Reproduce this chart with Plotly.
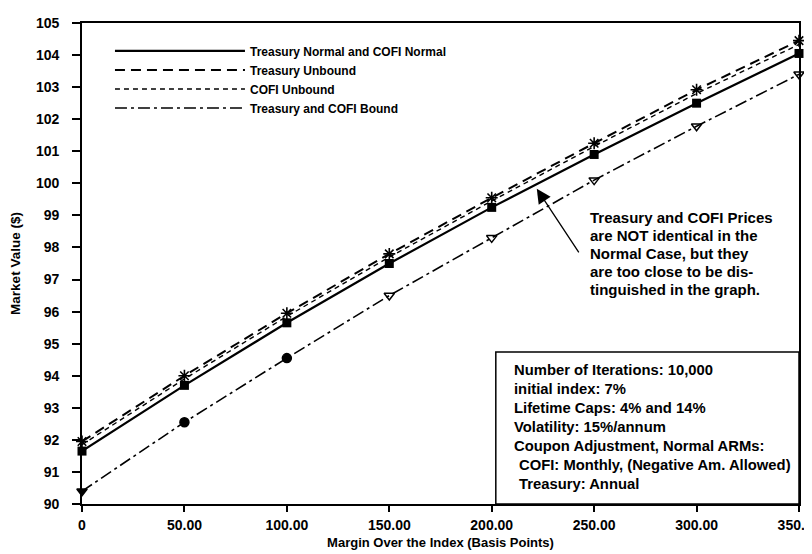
import plotly.graph_objects as go

# ---------------- data ----------------
margin_bp = [0, 50, 100, 150, 200, 250, 300, 350]
x_tick_labels = ["0", "50.00", "100.00", "150.00", "200.00", "250.00", "300.00", "350.00"]
y_tick_vals = list(range(90, 106))

treasury_normal = [91.65, 93.70, 95.65, 97.50, 99.25, 100.90, 102.50, 104.05]
treasury_unbound = [91.95, 94.00, 95.95, 97.80, 99.55, 101.25, 102.92, 104.45]
cofi_unbound = [91.85, 93.90, 95.85, 97.70, 99.45, 101.15, 102.80, 104.33]
both_bound = [90.40, 92.55, 94.55, 96.50, 98.30, 100.10, 101.78, 103.40]

series_names = [
    "Treasury Normal and COFI Normal",
    "Treasury Unbound",
    "COFI Unbound",
    "Treasury and COFI Bound",
]

note_lines = [
    "Treasury and COFI Prices",
    "are NOT identical in the",
    "Normal Case, but they",
    "are too close to be dis-",
    "tinguished in the graph.",
]

info_lines = [
    "Number of Iterations: 10,000",
    "initial index: 7%",
    "Lifetime Caps: 4% and 14%",
    "Volatility: 15%/annum",
    "Coupon Adjustment, Normal ARMs:",
    "COFI: Monthly, (Negative Am. Allowed)",
    "Treasury: Annual",
]
info_indent = [0, 0, 0, 0, 0, 5, 5]

# ---------------- styles ----------------
FONT = "Liberation Sans, Arial, sans-serif"
BLACK = "#000000"
line_styles = [
    dict(color=BLACK, width=2.2, dash="solid"),
    dict(color=BLACK, width=2.0, dash="10px,6px"),
    dict(color=BLACK, width=1.4, dash="5px,4px"),
    dict(color=BLACK, width=1.6, dash="12px,4px,3px,4px"),
]

fig = go.Figure()

# data traces
fig.add_trace(go.Scatter(
    x=margin_bp, y=treasury_normal, mode="lines+markers", showlegend=False,
    cliponaxis=False,
    line=line_styles[0], marker=dict(symbol="square", size=9, color=BLACK)))
fig.add_trace(go.Scatter(
    x=margin_bp, y=cofi_unbound, mode="lines", showlegend=False,
    cliponaxis=False, line=line_styles[2]))
fig.add_trace(go.Scatter(
    x=margin_bp, y=treasury_unbound, mode="lines+markers", showlegend=False,
    cliponaxis=False, line=line_styles[1],
    marker=dict(symbol="asterisk-open", size=10, color=BLACK,
                line=dict(color=BLACK, width=1.6))))
bound_symbols = ["triangle-down", "circle", "circle", "triangle-down-open",
                 "triangle-down-open", "triangle-down-open", "triangle-down-open",
                 "triangle-down-open"]
fig.add_trace(go.Scatter(
    x=margin_bp, y=both_bound, mode="lines+markers", showlegend=False,
    cliponaxis=False, line=line_styles[3],
    marker=dict(symbol=bound_symbols, size=9, color=BLACK,
                line=dict(color=BLACK, width=1.5))))

# legend-only traces (lines only, long samples)
for i, name in enumerate(series_names):
    fig.add_trace(go.Scatter(
        x=[None], y=[None], mode="lines", name=name, line=line_styles[i],
        legendgroup=f"g{i}", showlegend=True))

annotations = []
# note text with arrow
for i, t in enumerate(note_lines):
    annotations.append(dict(
        x=247, y=98.92, xref="x", yref="y", text=t, showarrow=False,
        xanchor="left", yanchor="middle", yshift=-18 * i,
        font=dict(family=FONT, size=15, color=BLACK, weight="bold")))
annotations.append(dict(
    x=222, y=99.83, xref="x", yref="y", ax=243, ay=97.8, axref="x", ayref="y",
    text="", showarrow=True, arrowhead=2, arrowsize=2.2, arrowwidth=1.3,
    arrowcolor=BLACK))

# info box text
box_left, box_top = 202, 94.74
for i, t in enumerate(info_lines):
    annotations.append(dict(
        x=box_left, y=box_top, xref="x", yref="y", text=t, showarrow=False,
        xanchor="left", yanchor="middle", xshift=16 + info_indent[i],
        yshift=-(18 + 19 * i),
        font=dict(family=FONT, size=14.8, color=BLACK, weight="bold")))

shapes = [dict(type="rect", xref="x", yref="y", x0=box_left, x1=350,
               y0=90, y1=box_top, line=dict(color=BLACK, width=1.5),
               fillcolor="rgba(0,0,0,0)", layer="above")]

fig.update_layout(
    width=812, height=554,
    margin=dict(l=74, r=21, t=15, b=58, autoexpand=False),
    paper_bgcolor="white", plot_bgcolor="white",
    font=dict(family=FONT, color=BLACK),
    showlegend=True,
    legend=dict(
        x=0.039, y=0.972, xanchor="left", yanchor="top",
        bgcolor="rgba(0,0,0,0)", borderwidth=0, itemwidth=130,
        tracegroupgap=0,
        font=dict(family=FONT, size=12, color=BLACK, weight="bold")),
    annotations=annotations,
    shapes=shapes,
)

fig.update_xaxes(
    range=[0, 350], tickvals=margin_bp, ticktext=x_tick_labels,
    showgrid=False, zeroline=False, automargin=False,
    showline=True, linecolor=BLACK, linewidth=2.2, mirror=True,
    ticks="outside", ticklen=6, tickwidth=1.5, tickcolor=BLACK,
    ticklabeloverflow="allow", ticklabelstandoff=1,
    tickfont=dict(family=FONT, size=14, color=BLACK, weight="bold"),
    title=dict(text="Margin Over the Index (Basis Points)", standoff=6,
               font=dict(family=FONT, size=13, color=BLACK, weight="bold")),
)
fig.update_yaxes(
    range=[90, 105], tickvals=y_tick_vals,
    showgrid=False, zeroline=False, automargin=False,
    showline=True, linecolor=BLACK, linewidth=1.6, mirror=True,
    ticks="outside", ticklen=8, tickwidth=1.5, tickcolor=BLACK,
    ticklabelstandoff=10,
    tickfont=dict(family=FONT, size=14, color=BLACK, weight="bold"),
    title=dict(text="Market Value ($)", standoff=12,
               font=dict(family=FONT, size=13.5, color=BLACK, weight="bold")),
)

fig.write_html("out.html")
